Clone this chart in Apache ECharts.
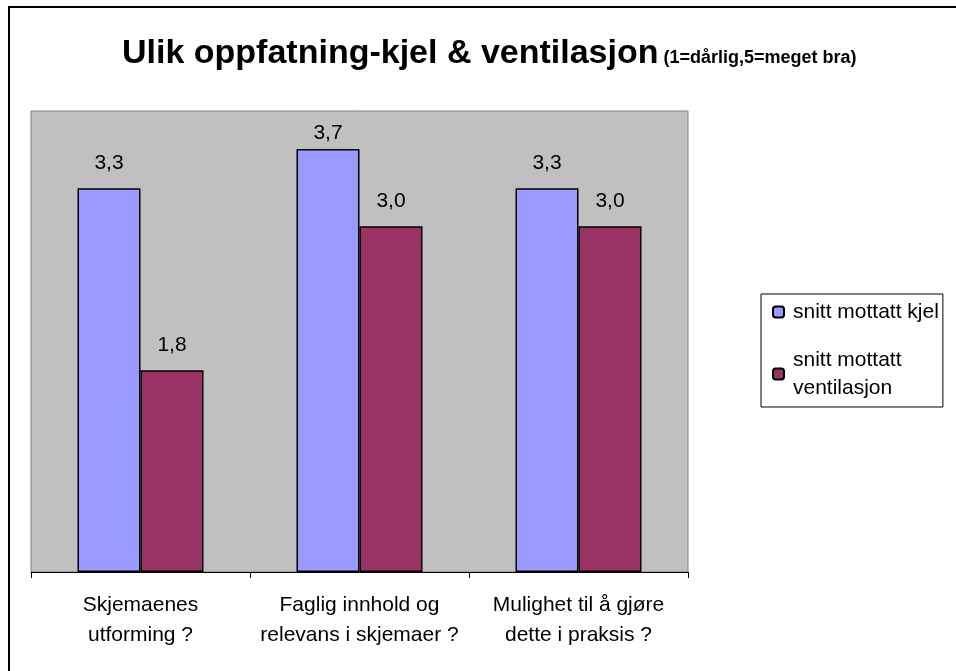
<!DOCTYPE html>
<html>
<head>
<meta charset="utf-8">
<script src="https://cdn.jsdelivr.net/npm/echarts@6/dist/echarts.min.js"></script>
<style>
  html, body { margin: 0; padding: 0; background: #fff; }
  #chart { width: 956px; height: 671px; }
</style>
</head>
<body>
<div id="chart"></div>
<script>
// categories and values
const categories = [
  'Skjemaenes\nutforming ?',
  'Faglig innhold og\nrelevans i skjemaer ?',
  'Mulighet til å gjøre\ndette i praksis ?'
];
const kjel = [3.33, 3.67, 3.33];
const ventilasjon = [1.75, 3.0, 3.0];
const seriesNames = ['snitt mottatt kjel', 'snitt mottatt ventilasjon'];

const font = '"Liberation Sans", Arial, sans-serif';
const fmt = p => p.value.toFixed(1).replace('.', ',');

const myChart = echarts.init(document.getElementById('chart'));

const barLabel = {
  show: true, position: 'top', distance: 15,
  formatter: fmt, fontFamily: font, fontSize: 21, color: '#000'
};

// the tallest bar's label sits closer to the bar (it is squeezed under the plot top)
const kjelData = kjel.map(v => v > 3.5 ? { value: v, label: { distance: 5 } } : v);

myChart.setOption({
  backgroundColor: '#fff',
  animation: false,
  textStyle: { fontFamily: font },
  title: {
    text: '{a|Ulik oppfatning-kjel & ventilasjon} {b|(1=dårlig,5=meget bra)}',
    left: 117,
    top: 32,
    textStyle: {
      rich: {
        a: { fontFamily: font, fontSize: 34, fontWeight: 'bold', color: '#000' },
        b: { fontFamily: font, fontSize: 18, fontWeight: 'bold', color: '#000', padding: [8, 0, 0, 0] }
      }
    }
  },
  graphic: [{
    type: 'rect',
    shape: { x: 9, y: 7, width: 1000, height: 700 },
    style: { fill: 'none', stroke: '#000', lineWidth: 2 },
    silent: true
  }],
  grid: {
    left: 31,
    top: 111,
    width: 657,
    height: 461,
    show: true,
    backgroundColor: '#C0C0C0',
    borderColor: '#808080',
    borderWidth: 1
  },
  legend: {
    orient: 'vertical',
    left: 761,
    top: 294,
    padding: [4, 4, 5, 11],
    borderColor: '#000',
    borderWidth: 1,
    itemWidth: 11,
    itemHeight: 11,
    itemGap: 20,
    data: seriesNames,
    formatter: n => n === seriesNames[1] ? 'snitt mottatt\nventilasjon' : n,
    textStyle: { fontFamily: font, fontSize: 21, color: '#000', lineHeight: 28, padding: [0, 0, 0, 4] }
  },
  xAxis: {
    type: 'category',
    data: categories,
    axisLine: { lineStyle: { color: '#000', width: 1 } },
    axisTick: { show: true, length: 6, lineStyle: { color: '#000' } },
    axisLabel: {
      color: '#000',
      fontFamily: font,
      fontSize: 21,
      lineHeight: 30,
      margin: 18,
      interval: 0
    }
  },
  yAxis: {
    type: 'value',
    min: 0,
    max: 4,
    show: false,
    splitLine: { show: false }
  },
  series: [
    {
      name: seriesNames[0],
      type: 'bar',
      data: kjelData,
      barWidth: 63,
      barGap: '0%',
      itemStyle: { color: '#9999FF', borderColor: '#000', borderWidth: 1.5 },
      label: barLabel
    },
    {
      name: seriesNames[1],
      type: 'bar',
      data: ventilasjon,
      barWidth: 63,
      itemStyle: { color: '#993366', borderColor: '#000', borderWidth: 1.5 },
      label: barLabel
    }
  ]
});
</script>
</body>
</html>
